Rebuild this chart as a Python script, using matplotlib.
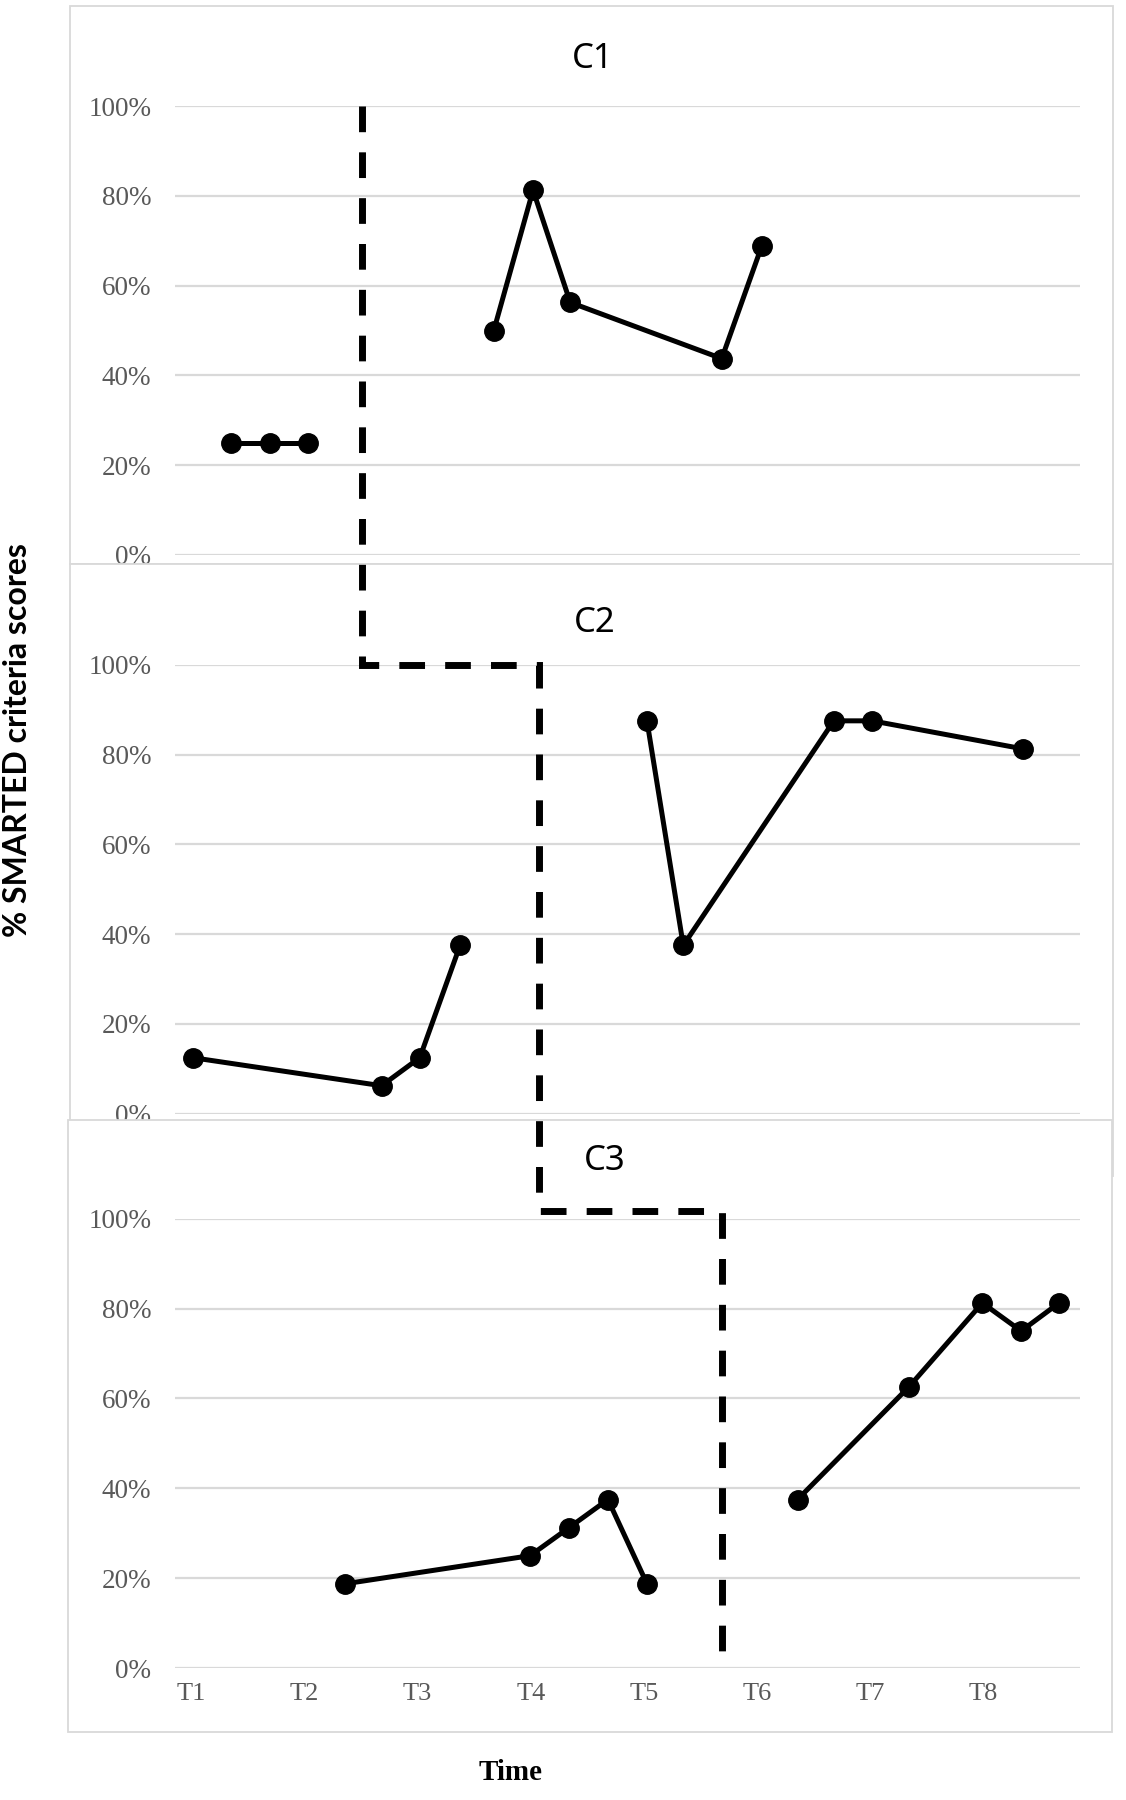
import numpy as np
import matplotlib
matplotlib.use('Agg')
import matplotlib.pyplot as plt
from matplotlib.lines import Line2D
from matplotlib.patches import Rectangle

# ---------------- data ----------------
panel_titles = ['C1', 'C2', 'C3']
time_labels = ['T1', 'T2', 'T3', 'T4', 'T5', 'T6', 'T7', 'T8']
y_ticks = [0, 20, 40, 60, 80, 100]

c1_base_x = [0.493, 0.838, 1.176]
c1_base_y = [25, 25, 25]
c1_int_x = [2.818, 3.165, 3.494, 4.833, 5.186]
c1_int_y = [50, 81.25, 56.25, 43.75, 68.75]

c2_base_x = [0.155, 1.826, 2.164, 2.520]
c2_base_y = [12.5, 6.25, 12.5, 37.5]
c2_int_x = [4.172, 4.493, 5.824, 6.163, 7.498]
c2_int_y = [87.5, 37.5, 87.5, 87.5, 81.25]

c3_base_x = [1.505, 3.139, 3.484, 3.827, 4.172]
c3_base_y = [18.75, 25, 31.25, 37.5, 18.75]
c3_int_x = [5.503, 6.485, 7.137, 7.480, 7.815]
c3_int_y = [37.5, 62.5, 81.25, 75, 81.25]

# phase-change positions (x in time units) for each panel
phase_x = [1.657, 3.217, 4.833]

# ---------------- figure ----------------
W, H = 1126, 1800
fig = plt.figure(figsize=(W / 100, H / 100), dpi=100)
fig.patch.set_facecolor('white')

def fx(px):
    return px / W

def fy(py):
    return 1 - py / H

GRID = '#d9d9d9'
TICKC = '#595959'
serif = ['Liberation Serif', 'DejaVu Serif']

# panel boxes (figure px): left, top, right, bottom
boxes = [(70, 5.5, 1113, 564), (70, 564, 1113, 1176), (68, 1120, 1112, 1732)]
# axes: y pixel of 0% line and of 100% line
axes_px = [(555, 106), (1113.8, 664.7), (1668, 1218.7)]
title_pos = [(593, 59), (595, 623), (605, 1161)]

series = [
    [(c1_base_x, c1_base_y), (c1_int_x, c1_int_y)],
    [(c2_base_x, c2_base_y), (c2_int_x, c2_int_y)],
    [(c3_base_x, c3_base_y), (c3_int_x, c3_int_y)],
]

axes = []
for i in range(3):
    l, t, r, b = boxes[i]
    rect = Rectangle((fx(l), fy(b)), fx(r) - fx(l), fy(t) - fy(b),
                     transform=fig.transFigure, facecolor='white',
                     edgecolor=GRID, lw=1.3, zorder=0.1 + 0.2 * i)
    fig.add_artist(rect)

    y0, y100 = axes_px[i]
    ax = fig.add_axes([fx(175), fy(y0), 905 / W, (y0 - y100) / H])
    ax.set_zorder(0.2 + 0.2 * i)
    ax.patch.set_alpha(0)
    ax.set_xlim(0, 8)
    ax.set_ylim(0, 100)
    for s in ax.spines.values():
        s.set_visible(False)
    ax.set_yticks(y_ticks)
    ax.set_yticklabels([f'{v}%' for v in y_ticks], family=serif,
                       fontsize=19.5, color=TICKC)
    ax.yaxis.grid(True, color=GRID, lw=1.6)
    ax.set_axisbelow(True)
    ax.tick_params(axis='y', length=0, pad=17)
    if i == 2:
        ax.set_xticks(np.arange(len(time_labels)) + 0.145)
        ax.set_xticklabels(time_labels, family=serif, fontsize=19, color=TICKC)
        ax.tick_params(axis='x', length=0, pad=11)
    else:
        ax.set_xticks([])
    for xs, ys in series[i]:
        ax.plot(xs, ys, color='black', lw=3.6, marker='o', ms=14,
                clip_on=False, zorder=3)
    tx, ty = title_pos[i]
    fig.text(fx(tx), fy(ty), panel_titles[i], family=['Noto Sans', 'DejaVu Sans'],
             fontsize=25, ha='center', va='center', zorder=3)
    axes.append(ax)

# ---------------- phase change line ----------------
def to_fig(ax, x, y):
    disp = ax.transData.transform((x, y))
    return fig.transFigure.inverted().transform(disp)

pts = [
    to_fig(axes[0], phase_x[0], 100),
    to_fig(axes[1], phase_x[0], 100),
    to_fig(axes[1], phase_x[1], 100),
    to_fig(axes[2], phase_x[1], 101.7),
    to_fig(axes[2], phase_x[2], 101.7),
    to_fig(axes[2], phase_x[2], 1.3),
]
pts = np.array(pts)
phase_line = Line2D(pts[:, 0], pts[:, 1], transform=fig.transFigure,
                    color='black', lw=5, dashes=(3.7, 2.9), zorder=10,
                    solid_joinstyle='miter', dash_joinstyle='miter',
                    dash_capstyle='butt')
fig.add_artist(phase_line)

# ---------------- labels ----------------
fig.text(fx(18), fy(740), '% SMARTED criteria scores', rotation=90,
         ha='center', va='center', fontweight='bold',
         family=['Lato', 'DejaVu Sans'], fontsize=23, zorder=3)
fig.text(fx(511), fy(1772), 'Time', ha='center', va='center',
         fontweight='bold', family=serif, fontsize=21, zorder=3)

fig.savefig('out.png', dpi=100, facecolor='white')
